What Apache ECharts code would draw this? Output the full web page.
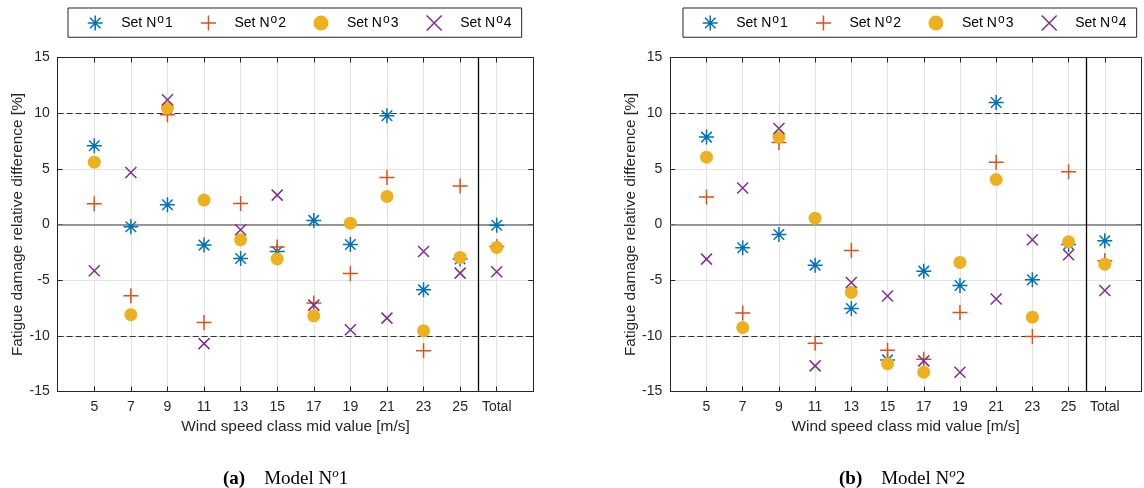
<!DOCTYPE html>
<html>
<head>
<meta charset="utf-8">
<script src="https://cdn.jsdelivr.net/npm/echarts@6/dist/echarts.min.js"></script>
<style>
html,body{margin:0;padding:0;background:#fff;}
#c{width:1144px;height:488px;}
</style>
</head>
<body>
<div id="c"></div>
<script>
// ---- data ----
var categories = ['5','7','9','11','13','15','17','19','21','23','25','Total'];
var seriesNames = ['Set 1','Set 2','Set 3','Set 4'];
// Model No1
var m1_set1 = [7.07, -0.2, 1.77, -1.85, -3.05, -2.42, 0.37, -1.8, 9.77, -5.87, -3.1, -0.06];
var m1_set2 = [1.86, -6.4, 9.86, -8.8, 1.89, -2.03, -7.06, -4.4, 4.22, -11.35, 3.45, -1.97];
var m1_set3 = [5.6, -8.1, 10.46, 2.19, -1.37, -3.1, -8.2, 0.12, 2.52, -9.55, -2.96, -2.06];
var m1_set4 = [-4.16, 4.67, 11.2, -10.7, -0.48, 2.64, -7.24, -9.46, -8.41, -2.42, -4.37, -4.25];
// Model No2
var m2_set1 = [7.85, -2.09, -0.9, -3.65, -7.55, -12.16, -4.19, -5.48, 10.96, -4.97, -1.8, -1.46];
var m2_set2 = [2.46, -7.96, 7.37, -10.66, -2.33, -11.3, -12.1, -7.9, 5.6, -10.06, 4.73, -3.26];
var m2_set3 = [6.05, -9.25, 7.85, 0.57, -6.1, -12.5, -13.27, -3.41, 4.04, -8.32, -1.55, -3.56];
var m2_set4 = [-3.11, 3.27, 8.63, -12.7, -5.21, -6.43, -12.25, -13.27, -6.7, -1.37, -2.72, -5.93];
var yTicks = [-15, -10, -5, 0, 5, 10, 15];

// ---- styling ----
var FONT = "'Liberation Sans', Arial, Helvetica, sans-serif";
var SERIF = "'Liberation Serif', 'Times New Roman', serif";
var AX = '#262626';
var colors = ['#0072BD', '#D95319', '#EDB120', '#7E2F8E'];
var symbols = [
  'path://M5,0L5,10M0,5L10,5M1.5,1.5L8.5,8.5M8.5,1.5L1.5,8.5',
  'path://M5,0L5,10M0,5L10,5',
  'circle',
  'path://M0,0L10,10M10,0L0,10'
];
var sizes = [15, 15, 13, 11];

function pos(i){ return 2 + 2 * i; } // position of category i on shifted axis (0..26)
function toData(arr){ return arr.map(function(v, i){ return [pos(i), v]; }); }
function xLabel(v){
  var idx = (v - 2) / 2;
  if (idx >= 0 && idx < categories.length && Math.round(idx) === idx) return categories[idx];
  return '';
}

var grids = [
  {left: 57.7, top: 57.5, width: 475.6, height: 334},
  {left: 670.3, top: 57.5, width: 475.6, height: 334}
];

var xAxes = [], yAxes = [], series = [], legends = [];
var models = [[m1_set1, m1_set2, m1_set3, m1_set4], [m2_set1, m2_set2, m2_set3, m2_set4]];
var legendLeft = [68, 683];

for (var g = 0; g < 2; g++) {
  xAxes.push({
    type: 'value', gridIndex: g, position: 'bottom', min: 0, max: 26, interval: 2,
    name: 'Wind speed class mid value [m/s]', nameLocation: 'middle', nameGap: 28,
    nameTextStyle: {fontFamily: FONT, fontSize: 15.4, color: AX},
    axisLine: {onZero: false, lineStyle: {color: AX, width: 1}},
    axisTick: {inside: true, length: 5, lineStyle: {color: AX}},
    axisLabel: {formatter: xLabel, fontFamily: FONT, fontSize: 14, color: AX, margin: 9, showMinLabel: true, showMaxLabel: true},
    splitLine: {show: true, lineStyle: {color: '#e3e3e3', width: 1}}
  });
  xAxes.push({
    type: 'value', gridIndex: g, position: 'top', min: 0, max: 26, interval: 2,
    axisLine: {onZero: false, lineStyle: {color: AX, width: 1}},
    axisTick: {inside: true, length: 5, lineStyle: {color: AX}},
    axisLabel: {show: false}, splitLine: {show: false}
  });
  yAxes.push({
    type: 'value', gridIndex: g, position: 'left', min: yTicks[0], max: yTicks[yTicks.length - 1], interval: 5,
    name: 'Fatigue damage relative difference [%]', nameLocation: 'middle', nameGap: 30,
    nameTextStyle: {fontFamily: FONT, fontSize: 15.4, color: AX},
    axisLine: {show: true, onZero: false, lineStyle: {color: AX, width: 1}},
    axisTick: {show: true, inside: true, length: 5, lineStyle: {color: AX}},
    axisLabel: {fontFamily: FONT, fontSize: 14, color: AX, margin: 8},
    splitLine: {show: true, lineStyle: {color: '#e3e3e3', width: 1}}
  });
  yAxes.push({
    type: 'value', gridIndex: g, position: 'right', min: yTicks[0], max: yTicks[yTicks.length - 1], interval: 5,
    axisLine: {show: true, onZero: false, lineStyle: {color: AX, width: 1}},
    axisTick: {show: true, inside: true, length: 5, lineStyle: {color: AX}},
    axisLabel: {show: false}, splitLine: {show: false}
  });

  for (var s = 0; s < 4; s++) {
    var ser = {
      type: 'scatter', name: seriesNames[s],
      xAxisIndex: g * 2, yAxisIndex: g * 2,
      data: toData(models[g][s]),
      symbol: symbols[s], symbolSize: sizes[s],
      itemStyle: s === 2
        ? {color: colors[s], opacity: 1}
        : {color: 'rgba(0,0,0,0)', borderColor: colors[s], borderWidth: 1.5, opacity: 1},
      emphasis: {disabled: true},
      animation: false, silent: true
    };
    if (s === 0) {
      ser.markLine = {
        silent: true, symbol: ['none', 'none'], animation: false, z: 1,
        label: {show: false},
        emphasis: {disabled: true},
        data: [
          {yAxis: 0, lineStyle: {color: '#7a7a7a', width: 1.5, type: 'solid'}},
          {yAxis: 10, lineStyle: {color: '#333', width: 1, type: [6, 3]}},
          {yAxis: -10, lineStyle: {color: '#333', width: 1, type: [6, 3]}},
          {xAxis: 23, lineStyle: {color: '#000', width: 1.3, type: 'solid'}}
        ]
      };
    }
    series.push(ser);
  }

  legends.push({
    left: legendLeft[g], top: 8, orient: 'horizontal',
    data: seriesNames,
    itemWidth: 42, itemHeight: 15, itemGap: 27.5,
    padding: [6, 10, 6, 19],
    backgroundColor: '#fff', borderColor: AX, borderWidth: 1, borderRadius: 0,
    selectedMode: false,
    itemStyle: {borderWidth: 1.5},
    formatter: function(name){ return '{n|Set N}{s|o}{n|' + name.slice(4) + '}'; },
    textStyle: {
      fontFamily: FONT, fontSize: 14, color: '#000',
      rich: {
        n: {fontFamily: FONT, fontSize: 14, color: '#000', lineHeight: 18},
        s: {fontFamily: FONT, fontSize: 12, color: '#000', verticalAlign: 'top', lineHeight: 12, padding: [0, 1, 0, 1]}
      }
    }
  });
}

var captionRich = {
  b: {fontFamily: SERIF, fontSize: 19, fontWeight: 'bold', color: '#000', lineHeight: 24},
  n: {fontFamily: SERIF, fontSize: 19, fontWeight: 'normal', color: '#000', lineHeight: 24},
  s: {fontFamily: SERIF, fontSize: 13, fontWeight: 'normal', fontStyle: 'italic', color: '#000', verticalAlign: 'top', lineHeight: 14}
};

var option = {
  backgroundColor: '#fff',
  animation: false,
  grid: grids,
  xAxis: xAxes,
  yAxis: yAxes,
  legend: legends,
  title: [
    {left: 218, top: 462, text: '{b|(a)}{n|\u2003Model N}{s|o}{n|1}', textStyle: {fontWeight: 'normal', rich: captionRich}},
    {left: 834, top: 462, text: '{b|(b)}{n|\u2003Model N}{s|o}{n|2}', textStyle: {fontWeight: 'normal', rich: captionRich}}
  ],
  series: series
};

var chart = echarts.init(document.getElementById('c'), null, {renderer: 'canvas'});
chart.setOption(option);
</script>
</body>
</html>
